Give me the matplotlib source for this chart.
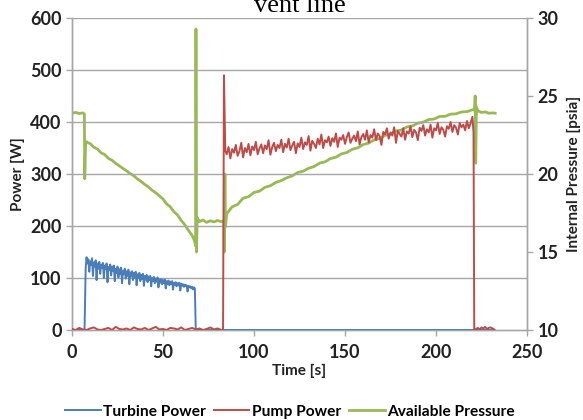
import numpy as np
import matplotlib
matplotlib.use("Agg")
import matplotlib.pyplot as plt

# ---------------- data ----------------
# Turbine power [W]
turb_t_pre = [0, 6.9]
turb_v_pre = [0, 0]
turb_t0, turb_dt = 7.5, 0.5
turb_noisy = [
    118, 140, 128, 136, 112, 132, 125, 138, 104, 130,
    122, 134, 96, 128, 118, 131, 108, 126, 120, 129,
    100, 124, 117, 128, 92, 121, 115, 126, 105, 122,
    113, 124, 94, 118, 110, 122, 101, 117, 108, 120,
    90, 114, 107, 118, 99, 113, 104, 116, 88, 111,
    103, 113, 96, 110, 101, 112, 86, 107, 100, 110,
    94, 106, 98, 108, 85, 104, 97, 106, 92, 103,
    96, 104, 84, 100, 94, 102, 90, 99, 93, 101,
    82, 97, 91, 98, 88, 96, 90, 97, 80, 94,
    88, 95, 86, 93, 89, 94, 78, 91, 87, 92,
    84, 90, 86, 91, 76, 89, 85, 88, 83, 87,
    85, 86, 74, 85, 82, 84, 80, 83, 78, 82,
    80,
]
turb_t_post = [68.0, 232.0]
turb_v_post = [0, 0]

# Pump power [W]
pump_low_t0, pump_low_dt = 0, 2
pump_low = [2, 0, 4, 1, 0, 3, 5, 1, 0, 2, 4, 0, 6, 2, 1, 3, 0, 5, 2, 1, 4,
            0, 3, 6, 1, 2, 0, 4, 3, 1, 5, 0, 2, 4, 1, 3, 0, 2, 5, 1, 3, 0]
pump_spike_t = [83.0, 83.5, 84.2]
pump_spike_v = [0, 490, 345]
pump_t0, pump_dt = 85, 1
pump_noisy = [
    338, 352, 330, 348, 341, 356, 335, 344, 360, 332,
    350, 342, 358, 336, 353, 346, 362, 338, 349, 357,
    340, 355, 348, 365, 337, 352, 360, 344, 356, 350,
    366, 342, 358, 351, 368, 346, 355, 362, 340, 359,
    352, 370, 348, 361, 356, 373, 345, 364, 358, 350,
    368, 357, 376, 350, 365, 361, 372, 354, 369, 362,
    378, 352, 370, 366, 375, 358, 371, 380, 360, 368,
    374, 363, 382, 357, 371, 377, 366, 384, 361, 375,
    370, 386, 365, 378, 373, 356, 381, 376, 388, 368,
    380, 374, 390, 360, 383, 377, 372, 388, 366, 382,
    378, 392, 371, 385, 380, 365, 389, 383, 394, 374,
    386, 380, 395, 370, 388, 384, 398, 377, 390, 385,
    372, 392, 387, 400, 381, 394, 389, 376, 398, 390,
    395, 384, 402, 388, 398, 410,
]
pump_end_t = [220.6, 221.0]
pump_end_v = [380, 0]
pump_tail_t0, pump_tail_dt = 222, 1
pump_tail = [2, 4, 1, 5, 3, 6, 2, 4, 5, 3, 1]

# Available (internal) pressure [psia]
pres_t_a = [0, 2, 4, 6, 6.8, 7.0, 7.5]
pres_v_a = [23.9, 23.95, 23.88, 23.92, 23.85, 19.7, 22.1]
pres_t0_b, pres_dt_b = 8, 2
pres_b = [22.05, 21.95, 21.72, 21.6, 21.35, 21.25, 21.0, 20.88, 20.68, 20.52,
          20.36, 20.2, 20.03, 19.88, 19.68, 19.52, 19.33, 19.17, 18.96, 18.8,
          18.6, 18.4, 18.08, 17.9, 17.58, 17.37, 17.03, 16.74, 16.38, 16.06]
pres_t_c = [67.4, 67.9, 68.1, 68.4, 68.8, 70, 72, 74, 76, 78, 80, 82, 83.4,
            83.7, 84.0, 84.3]
pres_v_c = [15.7, 15.4, 29.3, 15.0, 17.2, 16.95, 17.05, 16.9, 17.0, 16.93,
            17.02, 16.95, 17.0, 15.0, 20.0, 16.6]
pres_t0_d, pres_dt_d = 85, 3
pres_d = [17.45, 17.9, 18.05, 18.45, 18.55, 18.82, 18.9, 19.15, 19.25, 19.46,
          19.58, 19.76, 19.88, 20.1, 20.18, 20.37, 20.48, 20.7, 20.78, 20.99,
          21.08, 21.29, 21.38, 21.59, 21.68, 21.89, 21.98, 22.19, 22.28, 22.48,
          22.56, 22.76, 22.83, 23.02, 23.08, 23.26, 23.33, 23.49, 23.53, 23.69,
          23.7, 23.84, 23.86, 23.98, 24.0, 24.12]
pres_t_e = [221.2, 221.5, 221.8, 222.2, 223, 225, 227, 229, 231, 232.5]
pres_v_e = [24.1, 25.0, 20.7, 24.3, 24.05, 23.95, 23.98, 23.9, 23.92, 23.9]

x_ticks = [0, 50, 100, 150, 200, 250]
p_ticks = [0, 100, 200, 300, 400, 500, 600]
r_ticks = [10, 15, 20, 25, 30]

series_names = ["Turbine Power", "Pump Power", "Available Pressure"]
colors = ["#4a7ebb", "#be4b48", "#98b954"]

# ---------------- assemble series ----------------
turb_t = np.concatenate([turb_t_pre,
                         turb_t0 + turb_dt * np.arange(len(turb_noisy)),
                         turb_t_post])
turb_v = np.concatenate([turb_v_pre, turb_noisy, turb_v_post])

pump_t = np.concatenate([pump_low_t0 + pump_low_dt * np.arange(len(pump_low)),
                         pump_spike_t,
                         pump_t0 + pump_dt * np.arange(len(pump_noisy)),
                         pump_end_t,
                         pump_tail_t0 + pump_tail_dt * np.arange(len(pump_tail))])
pump_v = np.concatenate([pump_low, pump_spike_v, pump_noisy, pump_end_v, pump_tail])

pres_t = np.concatenate([pres_t_a,
                         pres_t0_b + pres_dt_b * np.arange(len(pres_b)),
                         pres_t_c,
                         pres_t0_d + pres_dt_d * np.arange(len(pres_d)),
                         pres_t_e])
pres_v = np.concatenate([pres_v_a, pres_b, pres_v_c, pres_d, pres_v_e])

# ---------------- plot ----------------
plt.rcParams['font.family'] = ['Lato', 'DejaVu Sans']
fig = plt.figure(figsize=(5.83, 4.2), dpi=100)
ax = fig.add_axes([0.1235, 0.2143, 0.7805, 0.7427])
ax2 = ax.twinx()

grid_c = "#a6a6a6"
for y in p_ticks[1:]:
    ax.axhline(y, color=grid_c, lw=1.0, zorder=0)

l1, = ax.plot(turb_t, turb_v, color=colors[0], lw=1.4, zorder=3)
l2, = ax.plot(pump_t, pump_v, color=colors[1], lw=1.4, zorder=3)
l3, = ax2.plot(pres_t, pres_v, color=colors[2], lw=2.0, zorder=4)

ax.set_xlim(0, 250)
ax.set_ylim(0, 600)
ax2.set_ylim(10, 30)
ax.set_xticks(x_ticks)
ax.set_yticks(p_ticks)
ax2.set_yticks(r_ticks)

for a in (ax, ax2):
    for s in a.spines.values():
        s.set_color(grid_c)
        s.set_linewidth(1.0)
    a.spines['top'].set_visible(False)
    a.tick_params(colors=grid_c, length=4, width=1.0, labelsize=13,
                  labelcolor="#222222")
for lab in ax.get_xticklabels() + ax.get_yticklabels() + ax2.get_yticklabels():
    lab.set_fontweight('bold')
ax.tick_params(axis='x', pad=6)

ax.set_xlabel("Time [s]", fontsize=11, fontweight='bold', color="#222222", labelpad=2)
ax.set_ylabel("Power [W]", fontsize=11, fontweight='bold', color="#222222", labelpad=4)
ax2.set_ylabel("Internal Pressure [psia]", fontsize=11, fontweight='bold',
               color="#222222", labelpad=6)

ax.set_zorder(ax2.get_zorder() + 1)
ax.patch.set_visible(False)

fig.legend([l1, l2, l3], series_names, loc='center', bbox_to_anchor=(0.497, 0.02),
           ncol=3, frameon=False, fontsize=11.5, handlelength=2.3,
           handletextpad=0.15, columnspacing=0.5,
           prop={'weight': 'bold', 'size': 11.2})

fig.text(0.515, 0.972, "vent line", ha='center', va='baseline',
         fontsize=19, family=['Liberation Serif', 'DejaVu Serif'])

fig.savefig("out.png", dpi=100)
